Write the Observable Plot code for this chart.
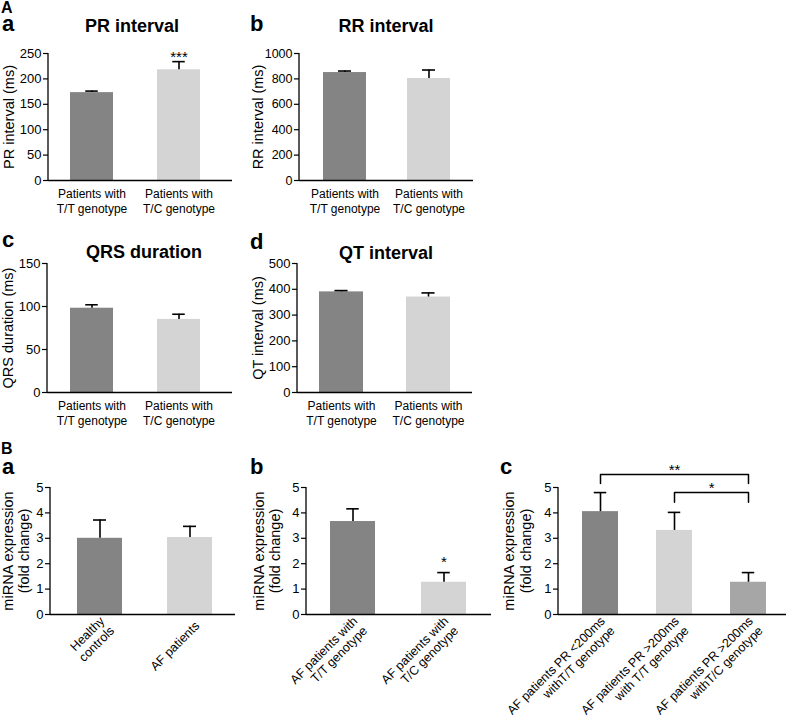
<!DOCTYPE html>
<html><head><meta charset="utf-8">
<script src="https://cdn.jsdelivr.net/npm/d3@7"></script>
<script src="https://cdn.jsdelivr.net/npm/@observablehq/plot@0.6"></script>
<style>
body{margin:0;background:#fff;}
#root{position:relative;width:787px;height:717px;overflow:hidden;background:#fff;}
#root svg{position:absolute;overflow:visible;}
</style></head><body><div id="root"></div>
<script>
// ---------- data ----------
const genotypeCats = ["Patients with\nT/T genotype", "Patients with\nT/C genotype"];
const prMean = [173, 218];
const prErr = [3, 16];
const prTicks = [0, 50, 100, 150, 200, 250];
const prStar = ["", "***"];
const prStarY = [null, 251];

const rrMean = [850, 803];
const rrErr = [12, 67];
const rrTicks = [0, 200, 400, 600, 800, 1000];

const qrsMean = [98, 85];
const qrsErr = [4, 6];
const qrsTicks = [0, 50, 100, 150];

const qtMean = [390, 370];
const qtErr = [5, 16];
const qtTicks = [0, 100, 200, 300, 400, 500];

const mirnaTicks = [0, 1, 2, 3, 4, 5];

const baCats = ["Healthy\ncontrols", "AF patients"];
const baMean = [3.0, 3.03];
const baErr = [0.72, 0.44];

const bbCats = ["AF patients with\nT/T genotype", "AF patients with\nT/C genotype"];
const bbMean = [3.66, 1.27];
const bbErr = [0.5, 0.38];
const bbStar = ["", "*"];
const bbStarY = [null, 2.2];

const bcCats = ["AF patients PR <200ms\nwithT/T genotype", "AF patients PR >200ms\nwith T/T genotype", "AF patients PR >200ms\nwithT/C genotype"];
const bcMean = [4.05, 3.31, 1.27];
const bcErr = [0.75, 0.71, 0.38];
const bcBracketFrom = [0, 1];
const bcBracketTo = [2, 2];
const bcBracketTop = [5.51, 4.80];
const bcBracketFoot = [5.16, 4.42];
const bcBracketLabel = ["**", "*"];
const bcBracketLabelY = [5.83, 5.12];

const colors2 = ["#848484", "#d4d4d4"];
const colors3 = ["#848484", "#d4d4d4", "#a6a6a6"];

// ---------- helpers ----------
const FONT = '"Liberation Sans", Arial, Helvetica, sans-serif';
const root = document.getElementById("root");

function addText(txt, x, baseline, fs, anchor) {
  const d = document.createElement("div");
  d.textContent = txt;
  d.style.cssText = `position:absolute;left:${x}px;top:${baseline - 0.7215 * fs}px;font:bold ${fs}px/0.75 ${FONT};white-space:nowrap;color:#000;` + (anchor === "middle" ? "transform:translateX(-50%);" : "");
  root.appendChild(d);
}

function panel(p) {
  const n = p.cats.length;
  const rows = p.cats.map((c, i) => ({cat: c, mean: p.mean[i], top: p.mean[i] + p.err[i], color: p.colors[i]}));
  const step = (p.xr[1] - p.xr[0]) / (n - p.pad);
  const bw = step * (1 - p.pad);
  const cap = (bw - 13) / 2;
  const marks = [
    Plot.barY(rows, {x: "cat", y: "mean", fill: "color"}),
    Plot.ruleX(rows, {x: "cat", y1: "mean", y2: "top", stroke: "#000", strokeWidth: 1.6}),
    Plot.tickY(rows, {x: "cat", y: "top", stroke: "#000", strokeWidth: 1.6, insetLeft: cap, insetRight: cap}),
    Plot.ruleY([0], {stroke: "#000", strokeWidth: 1.3}),
    (index, scales, values, dims) => d3.create("svg:line")
      .attr("x1", dims.marginLeft).attr("x2", dims.marginLeft)
      .attr("y1", dims.marginTop).attr("y2", dims.height - dims.marginBottom)
      .attr("stroke", "#000").attr("stroke-width", 1.3).node(),
    Plot.axisY(p.ticks, {tickSize: 5, tickPadding: 2, fontSize: p.yfs || 13, tickFormat: d => String(d), label: null, strokeWidth: 1.2}),
    Plot.text([p.ylabel], {text: d => d, frameAnchor: "left", textAnchor: "middle", rotate: -90, dx: p.ylabelDx, fontSize: 14.5, lineAnchor: "middle", lineHeight: 1.15})
  ];
  if (p.rotate) {
    marks.push(Plot.text(p.cats, {text: d => d, x: d => d, frameAnchor: "bottom", rotate: -45, textAnchor: "end", lineAnchor: "middle", dx: p.ldx, dy: p.ldy, fontSize: 12.5, lineHeight: 1.1}));
  } else {
    marks.push(Plot.text(p.cats, {text: d => d, x: d => d, frameAnchor: "bottom", lineAnchor: "top", dy: 7, fontSize: 12, lineHeight: 1.25}));
  }
  if (p.star) {
    const srows = p.cats.map((c, i) => ({cat: c, s: p.star[i], y: p.starY[i]})).filter(d => d.s);
    marks.push(Plot.text(srows, {x: "cat", y: "y", text: "s", fontSize: 15, lineAnchor: "middle", dy: 4}));
  }
  if (p.brackets) {
    const b = p.brackets;
    const pts = [];
    const labs = [];
    b.from.forEach((f, i) => {
      const t = b.to[i];
      pts.push({x: p.cats[f], y: b.foot[i], z: i}, {x: p.cats[f], y: b.top[i], z: i}, {x: p.cats[t], y: b.top[i], z: i}, {x: p.cats[t], y: b.foot[i], z: i});
      const mid = (f + t) / 2;
      labs.push({x: p.cats[Math.floor(mid)], half: mid % 1 !== 0, y: b.labelY[i], s: b.label[i]});
    });
    marks.push(Plot.line(pts, {x: "x", y: "y", z: "z", stroke: "#000", strokeWidth: 1.5}));
    marks.push(Plot.text(labs.filter(d => !d.half), {x: "x", y: "y", text: "s", fontSize: 15, lineAnchor: "middle", dy: 4}));
    marks.push(Plot.text(labs.filter(d => d.half), {x: "x", y: "y", text: "s", fontSize: 15, lineAnchor: "middle", dy: 4, dx: step / 2}));
  }
  const svg = Plot.plot({
    width: p.W, height: p.H,
    marginLeft: p.mL, marginRight: p.mR, marginTop: p.mT, marginBottom: p.mB,
    x: {type: "band", domain: p.cats, range: p.xr, paddingInner: p.pad, paddingOuter: 0, axis: null},
    y: {domain: [0, p.ticks[p.ticks.length - 1]]},
    color: {type: "identity"},
    style: {fontFamily: FONT, fontSize: "12px", color: "#000", background: "transparent", overflow: "visible"},
    marks
  });
  svg.style.left = p.L + "px";
  svg.style.top = p.T + "px";
  root.appendChild(svg);
}

// ---------- panels ----------
panel({cats: genotypeCats, mean: prMean, err: prErr, colors: colors2, ticks: prTicks, ylabel: "PR interval (ms)",
  L: 0, T: 40, W: 240, H: 180, mL: 48, mR: 8, mT: 13, mB: 40, xr: [70, 201], pad: 0.503, ylabelDx: -40,
  star: prStar, starY: prStarY});
panel({cats: genotypeCats, mean: rrMean, err: rrErr, colors: colors2, ticks: rrTicks, ylabel: "RR interval (ms)",
  L: 250, T: 40, W: 230, H: 180, mL: 49, mR: 7, mT: 13, mB: 40, xr: [72, 200], pad: 0.494, ylabelDx: -42, yfs: 12.5});
panel({cats: genotypeCats, mean: qrsMean, err: qrsErr, colors: colors2, ticks: qrsTicks, ylabel: "QRS duration (ms)",
  L: 0, T: 255, W: 240, H: 180, mL: 47, mR: 8, mT: 8, mB: 43, xr: [70, 201], pad: 0.503, ylabelDx: -39.5});
panel({cats: genotypeCats, mean: qtMean, err: qtErr, colors: colors2, ticks: qtTicks, ylabel: "QT interval (ms)",
  L: 250, T: 255, W: 230, H: 180, mL: 47, mR: 8, mT: 8, mB: 43, xr: [69, 200], pad: 0.497, ylabelDx: -39.5});
panel({cats: baCats, mean: baMean, err: baErr, colors: colors2, ticks: mirnaTicks, ylabel: "miRNA expression\n(fold change)",
  L: 0, T: 470, W: 245, H: 247, mL: 50, mR: 10, mT: 17, mB: 103, xr: [76, 212], pad: 0.505, ylabelDx: -35,
  rotate: true, ldx: 7, ldy: 9});
panel({cats: bbCats, mean: bbMean, err: bbErr, colors: colors2, ticks: mirnaTicks, ylabel: "miRNA expression\n(fold change)",
  L: 250, T: 470, W: 245, H: 247, mL: 56, mR: 4, mT: 17, mB: 103, xr: [80, 217], pad: 0.503, ylabelDx: -40,
  rotate: true, ldx: 7, ldy: 9, star: bbStar, starY: bbStarY});
panel({cats: bcCats, mean: bcMean, err: bcErr, colors: colors3, ticks: mirnaTicks, ylabel: "miRNA expression\n(fold change)",
  L: 500, T: 440, W: 287, H: 277, mL: 58, mR: 1, mT: 47, mB: 103, xr: [82, 267], pad: 0.508, ylabelDx: -41.5,
  rotate: true, ldx: 7, ldy: 9,
  brackets: {from: bcBracketFrom, to: bcBracketTo, top: bcBracketTop, foot: bcBracketFoot, label: bcBracketLabel, labelY: bcBracketLabelY}});

// ---------- titles & panel letters ----------
addText("A", 1, 14, 16);
addText("a", 2, 32, 22);
addText("b", 250, 32, 22);
addText("c", 2, 248, 22);
addText("d", 250, 250, 22);
addText("B", 1, 455, 16);
addText("a", 2, 475, 22);
addText("b", 250, 475, 22);
addText("c", 500, 475, 22);
addText("PR interval", 132, 33, 18, "middle");
addText("RR interval", 386, 33, 18, "middle");
addText("QRS duration", 144, 259, 18, "middle");
addText("QT interval", 386, 260, 18, "middle");
</script>
</body></html>
